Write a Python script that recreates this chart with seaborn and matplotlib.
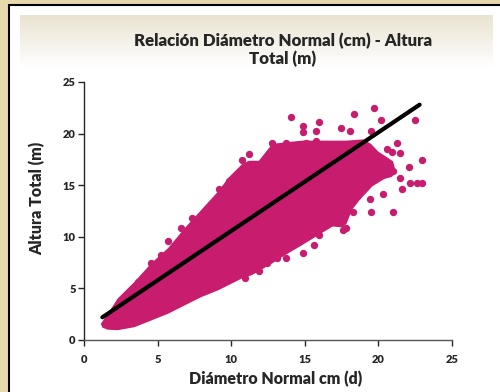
import numpy as np
import pandas as pd
import seaborn as sns
import matplotlib.pyplot as plt
from matplotlib.patches import Rectangle
from matplotlib.colors import LinearSegmentedColormap

# outline of the dense cloud of points (diametro cm, altura m)
cloud_x = [1.14, 1.6, 2.28, 3.43, 4.57, 5.71, 6.85, 7.99, 9.14, 9.82, 10.74, 11.19, 11.88,
           12.33, 12.79, 13.70, 14.85, 15.99, 17.82, 18.96, 19.5, 20.0, 20.6, 21.0, 21.2,
           20.9, 20.4, 19.6, 18.75, 18.2, 17.85, 17.6, 16.9, 16.2, 15.4, 14.85, 13.70,
           12.79, 11.42, 10.74, 9.14, 7.99, 6.85, 5.71, 4.57, 3.43, 2.28, 1.6, 1.25]
cloud_y = [1.57, 2.5, 4.01, 5.64, 7.43, 8.90, 10.85, 12.64, 14.44, 15.74, 17.04, 17.37, 17.37,
           18.18, 19.00, 19.16, 19.32, 19.32, 19.32, 19.44, 19.0, 18.25, 17.7, 17.3, 16.2,
           15.8, 15.6, 14.9, 13.6, 12.6, 11.3, 10.9, 11.0, 10.4, 9.7, 9.22, 8.25,
           7.43, 6.29, 5.97, 4.83, 4.17, 3.36, 2.54, 1.89, 1.24, 0.95, 1.0, 1.2]

# single points that stand out of the cloud
pts_x = [14.05, 18.34, 19.69, 20.15, 22.50, 14.89, 14.89, 15.99, 15.76, 17.47, 18.04,
         19.53, 12.79, 13.70, 15.08, 15.76, 14.62, 11.19, 10.74, 11.08, 21.24, 20.56,
         20.90, 21.47, 22.11, 22.96, 22.96, 22.61, 22.16, 21.59, 21.47, 21.01, 20.33,
         19.42, 19.53, 20.97, 18.27, 17.82, 17.59, 16.45, 15.99, 15.65, 14.85, 13.70,
         13.13, 12.45, 11.88, 10.96, 9.82, 9.14, 7.31, 6.62, 5.71, 5.25, 4.57, 3.65]
pts_y = [21.61, 21.93, 22.49, 21.35, 21.35, 20.69, 20.14, 21.12, 20.24, 20.56, 20.24,
         20.24, 19.06, 19.06, 19.06, 19.26, 18.51, 18.02, 17.43, 16.78, 19.06, 18.51,
         18.18, 18.09, 16.78, 17.44, 15.22, 15.22, 15.22, 14.60, 15.74, 16.39, 14.11,
         13.62, 12.42, 12.42, 12.42, 10.85, 10.69, 11.24, 10.14, 9.22, 8.41, 7.92,
         7.92, 7.43, 6.68, 5.97, 15.42, 14.60, 11.83, 10.85, 9.55, 8.25, 7.43, 5.64]

# fitted line ends
line_x = [1.25, 22.8]
line_y = [2.2, 22.8]

ticks = [0, 5, 10, 15, 20, 25]
color = '#C81C6E'

sns.set_style('ticks')
plt.rcParams['font.family'] = ['Lato', 'DejaVu Sans']

fig = plt.figure(figsize = (5, 3.92), dpi = 100)
fig.patch.set_facecolor('#E8D9AD')

# white panel with black frame
fig.patches.append(Rectangle((9 / 500, -0.01), 1, 1 - 5 / 392 + 0.01, transform = fig.transFigure,
                             facecolor = 'white', edgecolor = 'black', linewidth = 1.5, zorder = -5))

# cream gradient band behind title
bg = fig.add_axes([20 / 500, 1 - 68 / 392, 473 / 500, 53 / 392], zorder = -2)
grad = np.linspace(0, 1, 100).reshape(-1, 1)
bg.imshow(grad, aspect = 'auto', cmap = LinearSegmentedColormap.from_list('g', ['#E9E3D1', '#FFFFFF']),
          extent = [0, 1, 1, 0])
bg.axis('off')

ax = fig.add_axes([84 / 500, 1 - 340 / 392, 368 / 500, 258 / 392])
ax.set_facecolor('none')
ax.fill(cloud_x, cloud_y, color = color, linewidth = 0)
df = pd.DataFrame({'x': pts_x, 'y': pts_y})
sns.scatterplot(data = df, x = 'x', y = 'y', color = color, s = 28, linewidth = 0, ax = ax)
sns.lineplot(x = line_x, y = line_y, color = 'black', linewidth = 3, ax = ax)

ax.set_xlim(0, 25)
ax.set_ylim(0, 25)
ax.set_xticks(ticks)
ax.set_yticks(ticks)
ax.set_xticklabels(ticks, fontsize = 8, fontweight = 'heavy')
ax.set_yticklabels(ticks, fontsize = 8, fontweight = 'heavy')
ax.tick_params(axis = 'x', length = 4, width = 1, pad = 6)
ax.tick_params(axis = 'y', length = 4, width = 1, pad = 2)
sns.despine(ax = ax)
ax.spines['left'].set_linewidth(1)
ax.spines['bottom'].set_linewidth(1)
ax.spines['bottom'].set_color('#555555')
ax.set_xlabel('Diámetro Normal cm (d)', fontsize = 11.5, fontweight = 'heavy')
ax.set_ylabel('Altura Total (m)', fontsize = 11.5, fontweight = 'heavy')
ax.xaxis.set_label_coords(0.522, -0.118)
ax.yaxis.set_label_coords(-0.105, 0.55)

fig.text(283 / 500, 1 - 50 / 392, 'Relación Diámetro Normal (cm) - Altura\nTotal (m)',
         ha = 'center', va = 'center', fontsize = 12.2, fontweight = 'heavy', linespacing = 1.1)

plt.savefig('out.png', dpi = 100)
